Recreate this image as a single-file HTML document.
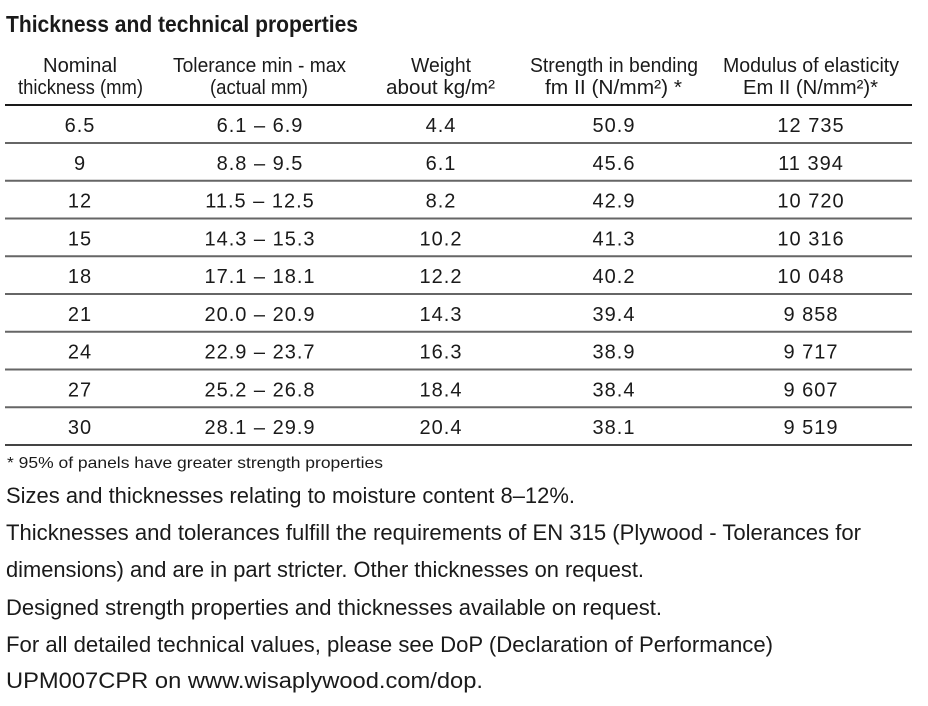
<!DOCTYPE html>
<html><head><meta charset="utf-8"><style>
html,body{margin:0;padding:0;background:#fff;}
svg{display:block;}
text{font-family:"Liberation Sans",sans-serif;fill:#1a1a1a;}
.h{font-size:20.5px;}
.d{font-size:20px;letter-spacing:1px;}
</style></head><body>
<svg width="928" height="706" viewBox="0 0 928 706" xmlns="http://www.w3.org/2000/svg">
<text x="6" y="32" font-size="23" font-weight="bold" textLength="352" lengthAdjust="spacingAndGlyphs">Thickness and technical properties</text>

<g class="h" text-anchor="middle">
<text class="h" x="80" y="72" textLength="74" lengthAdjust="spacingAndGlyphs">Nominal</text>
<text class="h" x="80.5" y="94" textLength="125" lengthAdjust="spacingAndGlyphs">thickness (mm)</text>
<text class="h" x="259.5" y="72" textLength="173" lengthAdjust="spacingAndGlyphs">Tolerance min - max</text>
<text class="h" x="259" y="94" textLength="98" lengthAdjust="spacingAndGlyphs">(actual mm)</text>
<text class="h" x="441" y="72" textLength="60" lengthAdjust="spacingAndGlyphs">Weight</text>
<text class="h" x="440.5" y="94" textLength="109" lengthAdjust="spacingAndGlyphs">about kg/m²</text>
<text class="h" x="614" y="72" textLength="168" lengthAdjust="spacingAndGlyphs">Strength in bending</text>
<text class="h" x="613.5" y="94" textLength="137" lengthAdjust="spacingAndGlyphs">fm II (N/mm²) *</text>
<text class="h" x="811" y="72" textLength="176" lengthAdjust="spacingAndGlyphs">Modulus of elasticity</text>
<text class="h" x="810.5" y="94" textLength="135" lengthAdjust="spacingAndGlyphs">Em II (N/mm²)*</text>
</g>

<line x1="5" y1="105" x2="912" y2="105" stroke="#1a1a1a" stroke-width="2"/>
<g stroke="#666" stroke-width="2">
<line x1="5" y1="143" x2="912" y2="143"/>
<line x1="5" y1="180.75" x2="912" y2="180.75"/>
<line x1="5" y1="218.5" x2="912" y2="218.5"/>
<line x1="5" y1="256.25" x2="912" y2="256.25"/>
<line x1="5" y1="294" x2="912" y2="294"/>
<line x1="5" y1="331.75" x2="912" y2="331.75"/>
<line x1="5" y1="369.5" x2="912" y2="369.5"/>
<line x1="5" y1="407.25" x2="912" y2="407.25"/>
<line x1="5" y1="445" x2="912" y2="445" stroke="#444"/>
</g>

<g text-anchor="middle">
<text class="d" x="80" y="132">6.5</text><text class="d" x="260" y="132">6.1 – 6.9</text><text class="d" x="441" y="132">4.4</text><text class="d" x="614" y="132">50.9</text><text class="d" x="811" y="132">12 735</text>
<text class="d" x="80" y="169.75">9</text><text class="d" x="260" y="169.75">8.8 – 9.5</text><text class="d" x="441" y="169.75">6.1</text><text class="d" x="614" y="169.75">45.6</text><text class="d" x="811" y="169.75">11 394</text>
<text class="d" x="80" y="207.5">12</text><text class="d" x="260" y="207.5">11.5 – 12.5</text><text class="d" x="441" y="207.5">8.2</text><text class="d" x="614" y="207.5">42.9</text><text class="d" x="811" y="207.5">10 720</text>
<text class="d" x="80" y="245.25">15</text><text class="d" x="260" y="245.25">14.3 – 15.3</text><text class="d" x="441" y="245.25">10.2</text><text class="d" x="614" y="245.25">41.3</text><text class="d" x="811" y="245.25">10 316</text>
<text class="d" x="80" y="283">18</text><text class="d" x="260" y="283">17.1 – 18.1</text><text class="d" x="441" y="283">12.2</text><text class="d" x="614" y="283">40.2</text><text class="d" x="811" y="283">10 048</text>
<text class="d" x="80" y="320.75">21</text><text class="d" x="260" y="320.75">20.0 – 20.9</text><text class="d" x="441" y="320.75">14.3</text><text class="d" x="614" y="320.75">39.4</text><text class="d" x="811" y="320.75">9 858</text>
<text class="d" x="80" y="358.5">24</text><text class="d" x="260" y="358.5">22.9 – 23.7</text><text class="d" x="441" y="358.5">16.3</text><text class="d" x="614" y="358.5">38.9</text><text class="d" x="811" y="358.5">9 717</text>
<text class="d" x="80" y="396.25">27</text><text class="d" x="260" y="396.25">25.2 – 26.8</text><text class="d" x="441" y="396.25">18.4</text><text class="d" x="614" y="396.25">38.4</text><text class="d" x="811" y="396.25">9 607</text>
<text class="d" x="80" y="434">30</text><text class="d" x="260" y="434">28.1 – 29.9</text><text class="d" x="441" y="434">20.4</text><text class="d" x="614" y="434">38.1</text><text class="d" x="811" y="434">9 519</text>
</g>

<text x="7" y="468" font-size="16" textLength="376" lengthAdjust="spacingAndGlyphs">* 95% of panels have greater strength properties</text>

<g font-size="22.5">
<text x="6" y="503" font-size="22.5" textLength="569" lengthAdjust="spacingAndGlyphs">Sizes and thicknesses relating to moisture content 8–12%.</text>
<text x="6" y="540" font-size="22.5" textLength="855" lengthAdjust="spacingAndGlyphs">Thicknesses and tolerances fulfill the requirements of EN 315 (Plywood - Tolerances for</text>
<text x="6" y="577" font-size="22.5" textLength="638" lengthAdjust="spacingAndGlyphs">dimensions) and are in part stricter. Other thicknesses on request.</text>
<text x="6" y="615" font-size="22.5" textLength="656" lengthAdjust="spacingAndGlyphs">Designed strength properties and thicknesses available on request.</text>
<text x="6" y="652" font-size="22.5" textLength="767" lengthAdjust="spacingAndGlyphs">For all detailed technical values, please see DoP (Declaration of Performance)</text>
<text x="6" y="688" font-size="22.5" textLength="477" lengthAdjust="spacingAndGlyphs">UPM007CPR on www.wisaplywood.com/dop.</text>
</g>
</svg>
</body></html>
